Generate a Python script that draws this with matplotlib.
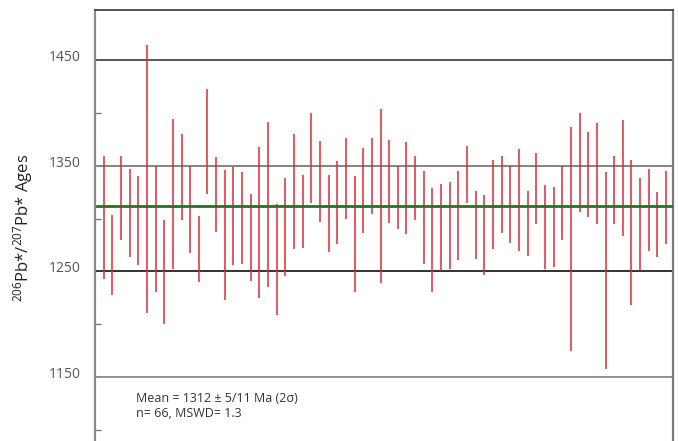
import matplotlib
matplotlib.use("Agg")
import matplotlib.pyplot as plt
from matplotlib.transforms import ScaledTranslation
import numpy as np

plt.rcParams['font.family'] = ['Open Sans', 'DejaVu Sans']
plt.rcParams['mathtext.fontset'] = 'custom'
plt.rcParams['mathtext.rm'] = 'Open Sans'
plt.rcParams['mathtext.it'] = 'Open Sans:italic'

# 207Pb/206Pb ages (Ma): upper and lower ends of each 2-sigma error bar
upper = [1359, 1303, 1359, 1347, 1340, 1464, 1350, 1299, 1394, 1380, 1350, 1302, 1423,
         1358, 1346, 1349, 1344, 1323, 1368, 1391, 1314, 1338, 1380, 1341, 1400, 1373,
         1341, 1354, 1376, 1340, 1367, 1376, 1404, 1374, 1350, 1372, 1359, 1345, 1329,
         1333, 1335, 1345, 1369, 1326, 1322, 1355, 1359, 1350, 1366, 1326, 1362, 1332,
         1330, 1350, 1387, 1400, 1382, 1390, 1344, 1359, 1393, 1355, 1338, 1347, 1325,
         1345]
lower = [1243, 1228, 1280, 1264, 1256, 1211, 1230, 1200, 1252, 1299, 1267, 1240, 1323,
         1287, 1223, 1256, 1257, 1241, 1225, 1235, 1209, 1246, 1271, 1272, 1315, 1297,
         1268, 1276, 1300, 1230, 1286, 1304, 1239, 1296, 1290, 1285, 1299, 1257, 1230,
         1250, 1252, 1261, 1315, 1262, 1247, 1271, 1286, 1277, 1269, 1265, 1295, 1252,
         1254, 1280, 1175, 1306, 1301, 1295, 1158, 1295, 1283, 1218, 1250, 1269, 1264,
         1276]
mean_age = 1312
grid_levels = [1150, 1250, 1350, 1450]
minor_levels = [1100, 1200, 1300, 1400]
stats_text = "Mean = 1312 \u00b1 5/11 Ma (2\u03c3)\nn= 66, MSWD= 1.3"

fig = plt.figure(figsize=(6.78, 4.41), dpi=100)
ax = fig.add_axes([95 / 678, 0.0, 578 / 678, 1 - 10 / 441])

x = np.arange(1, len(upper) + 1)
ax.vlines(x, lower, upper, color='#dc2a36', lw=1.1, zorder=3)

grid_colors = {1150: '#8a8a8a', 1250: '#222222', 1350: '#7a7a7a', 1450: '#4a4a4a'}
for lvl in grid_levels:
    ax.axhline(lvl, color=grid_colors[lvl], lw=1.3, zorder=1)

ax.axhline(mean_age, xmin=0.004, xmax=0.997, color='#2f6b2c', lw=2.0, zorder=4)

ax.set_xlim(0, 66.8)
ax.set_ylim(1089.4, 1497.4)

ax.spines['bottom'].set_visible(False)
ax.spines['top'].set_color('#444444')
ax.spines['top'].set_linewidth(1.3)
ax.spines['left'].set_color('#8a8a8a')
ax.spines['left'].set_linewidth(1.6)
ax.spines['right'].set_color('#7a7a7a')
ax.spines['right'].set_linewidth(1.6)

ax.set_xticks([])
ax.set_yticks(grid_levels)
ax.set_yticklabels([str(v) for v in grid_levels])
ax.set_yticks(minor_levels, minor=True)
ax.tick_params(axis='y', which='major', length=0, pad=10, labelsize=10, labelcolor='#555555')
ax.tick_params(axis='y', which='minor', direction='in', length=4, width=1, color='#777777')
for lab in ax.get_yticklabels():
    lab.set_transform(lab.get_transform() + ScaledTranslation(0, 0.045, fig.dpi_scale_trans))

ax.set_ylabel(r'$^{206}$Pb*/$^{207}$Pb* Ages', fontsize=12, color='#222222')
ax.yaxis.set_label_coords(-0.104, 0.494)

ax.text(0.071, 0.114, stats_text, transform=ax.transAxes, fontsize=9,
        color='#333333', va='top', ha='left', linespacing=1.25)

fig.savefig("out.png", dpi=100)
